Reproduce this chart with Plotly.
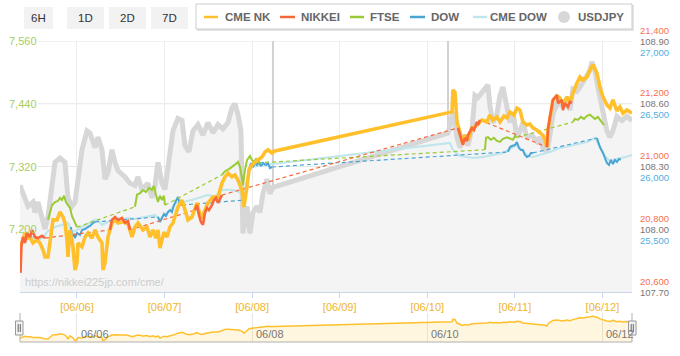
import pandas as pd
import plotly.graph_objects as go

BASE = pd.Timestamp("2019-06-05 00:00")  # JST, hours below are counted from here


def T(hs):
    return [BASE + pd.Timedelta(hours=h) for h in hs]


# ---------------- data (hours since 06/05 00:00, values) ----------------
usdjpy_h = [8.39, 9.76, 10.58, 11.95, 12.50, 13.32, 14.41, 15.24, 16.06, 17.16,
            17.98, 19.35, 20.72, 21.54, 22.64, 23.46, 25.38, 26.75, 27.57, 28.94,
            29.76, 30.86, 31.68, 32.50, 33.60, 34.42, 35.24, 37.16, 38.53, 39.90,
            40.72, 41.82, 43.46, 44.56, 45.38, 46.20, 47.30, 48.12, 49.49, 50.31,
            51.68, 52.78, 53.60, 54.70, 55.79, 57.16, 58.53, 59.90, 61.27, 62.64,
            64.01, 65.38, 66.48, 67.30, 68.12, 68.94, 69.49, 70.59, 71.41, 72.23,
            73.33, 74.15, 74.97, 76.06, 76.89, 77.71,
            125.68, 126.22, 127.04, 128.14, 128.96, 130.06, 131.15, 132.25, 133.07, 133.89,
            135.26, 136.63, 137.18, 138.00, 139.10, 139.92, 140.74, 141.84, 142.66, 143.48,
            144.58, 145.40, 146.22, 147.32, 148.69, 150.06, 150.88, 151.70, 152.80, 153.62,
            154.45, 155.82, 156.91, 158.28, 159.10, 159.92, 161.02, 161.84, 162.94, 163.76,
            164.58, 165.13, 165.95, 166.77, 168.14, 169.24, 170.06, 170.88, 171.98, 173.35,
            174.72, 176.09]
usdjpy_v = [108.21, 108.15, 108.11, 108.13, 108.08, 108.13, 108.06, 108.00, 108.06, 108.24,
            108.32, 108.34, 108.32, 108.15, 108.11, 108.13, 108.38, 108.47, 108.46, 108.39,
            108.44, 108.38, 108.24, 108.27, 108.38, 108.32, 108.28, 108.25, 108.22, 108.21,
            108.25, 108.19, 108.22, 108.15, 108.21, 108.32, 108.22, 108.19, 108.38, 108.47,
            108.53, 108.52, 108.40, 108.37, 108.47, 108.50, 108.45, 108.51, 108.46, 108.50,
            108.48, 108.51, 108.58, 108.60, 108.55, 108.47, 107.98, 108.11, 107.98, 108.08,
            108.11, 108.08, 108.17, 108.24, 108.17, 108.20,
            108.46, 108.51, 108.56, 108.44, 108.39, 108.45, 108.40, 108.48, 108.64, 108.63,
            108.66, 108.69, 108.59, 108.51, 108.55, 108.64, 108.68, 108.59, 108.51, 108.56,
            108.44, 108.47, 108.51, 108.44, 108.45, 108.42, 108.44, 108.39, 108.37, 108.45,
            108.55, 108.61, 108.59, 108.60, 108.57, 108.67, 108.66, 108.68, 108.71, 108.73,
            108.76, 108.80, 108.76, 108.68, 108.57, 108.47, 108.44, 108.47, 108.54, 108.52,
            108.54, 108.52]

cme_nk_h = [8.39, 9.21, 9.76, 10.58, 11.13, 11.95, 13.05, 13.87, 14.69, 15.24,
            16.06, 16.61, 17.43, 18.53, 19.35, 20.17, 20.72, 21.27, 21.54, 22.09,
            22.91, 23.46, 24.01, 24.28, 25.38, 26.20, 27.02, 28.12, 28.94, 29.76,
            30.86, 31.13, 31.68, 32.50, 33.60, 34.42, 35.24, 36.34, 37.16, 37.98,
            39.08, 39.90, 40.72, 42.09, 43.19, 44.01, 44.83, 45.65, 46.20, 46.75,
            47.30, 47.85, 48.67, 49.49, 50.31, 51.68, 52.78, 53.60, 54.42, 55.52,
            56.34, 56.89, 57.71, 58.26, 59.08, 59.90, 61.27, 62.64, 63.73, 64.56,
            65.38, 66.48, 67.30, 68.12, 69.21, 69.49, 69.76, 70.59, 71.14, 71.96,
            72.78, 73.60, 74.70, 75.52, 76.34, 77.44, 77.98,
            126.77, 127.04, 127.59, 128.14, 128.96, 129.51, 130.33, 131.15, 132.25, 133.07,
            133.89, 134.99, 136.36, 137.18, 138.00, 139.10, 139.92, 141.02, 141.84, 142.66,
            143.76, 144.58, 145.40, 146.22, 147.32, 148.14, 148.96, 150.06, 150.88, 151.70,
            152.25, 152.80, 153.07, 153.62, 154.45, 155.54, 156.36, 157.18, 158.28, 159.10,
            159.92, 161.02, 161.84, 162.66, 163.76, 164.58, 165.40, 166.50, 167.32, 168.14,
            169.24, 170.06, 170.88, 171.98, 172.80, 173.62, 174.72, 176.09]
cme_nk_v = [20744, 20766, 20788, 20772, 20775, 20756, 20766, 20756, 20734, 20712,
            20712, 20766, 20830, 20830, 20855, 20839, 20820, 20766, 20712, 20798,
            20744, 20670, 20693, 20756, 20744, 20775, 20788, 20772, 20798, 20775,
            20756, 20670, 20693, 20775, 20820, 20830, 20820, 20823, 20823, 20817,
            20775, 20807, 20820, 20798, 20807, 20775, 20798, 20772, 20798, 20740,
            20766, 20791, 20775, 20807, 20820, 20871, 20893, 20861, 20830, 20839,
            20871, 20884, 20845, 20839, 20861, 20884, 20903, 20903, 20947, 20967,
            20979, 20967, 20973, 20957, 20925, 20884, 20871, 20935, 20989, 21005,
            21014, 21021, 21030, 21046, 21053, 21043, 21049,
            21174, 21244, 21237, 21142, 21110, 21078, 21100, 21084, 21123, 21126,
            21135, 21148, 21142, 21164, 21148, 21158, 21142, 21161, 21155, 21174,
            21164, 21186, 21180, 21142, 21132, 21135, 21123, 21116, 21107, 21100,
            21084, 21062, 21116, 21158, 21212, 21225, 21218, 21196, 21222, 21202,
            21234, 21266, 21285, 21276, 21285, 21308, 21324, 21298, 21253, 21222,
            21196, 21186, 21212, 21177, 21190, 21170, 21180, 21170]

# NIKKEI cash sessions
nikkei_h = [[8.53, 8.80, 9.21, 9.76, 10.30, 11.13, 11.67, 12.50, 13.32, 14.41, 15.24],
            [33.05, 33.60, 34.42, 35.24, 36.34, 37.16, 37.98, 38.53],
            [56.34, 56.89, 57.44, 57.98, 58.53, 59.08, 59.63, 60.17, 60.99, 61.54, 62.09, 62.64, 63.19, 63.73],
            [128.41, 128.96, 129.51, 129.78, 130.33, 130.88, 131.15, 131.70, 132.25, 132.80, 133.62, 133.89, 134.44],
            [152.80, 153.07, 153.62, 154.45, 155.54, 155.82, 156.91, 157.18, 157.73, 158.55, 159.10, 159.65]]
nikkei_v = [[20661, 20750, 20775, 20756, 20788, 20775, 20798, 20775, 20772, 20779, 20772],
            [20798, 20830, 20839, 20830, 20836, 20820, 20826, 20798],
            [20861, 20877, 20845, 20823, 20814, 20852, 20868, 20861, 20877, 20893, 20900, 20884, 20896, 20909],
            [21123, 21100, 21078, 21069, 21091, 21081, 21100, 21110, 21123, 21116, 21142, 21132, 21148],
            [21062, 21116, 21158, 21212, 21228, 21202, 21212, 21180, 21202, 21190, 21206, 21202]]

# FTSE sessions
ftse_h = [[16.06, 16.61, 17.16, 17.98, 18.80, 19.35, 19.90, 20.45, 20.99, 21.54, 22.09, 22.64, 23.46, 24.01],
          [39.90, 40.45, 41.27, 42.09, 42.91, 43.73, 44.56, 45.10, 45.65, 46.20, 46.75, 47.30, 47.85, 48.12],
          [63.73, 64.56, 65.65, 66.48, 67.57, 68.12, 68.67, 69.21, 69.49, 70.04, 70.59, 71.41, 71.96, 72.51, 73.06, 73.60],
          [135.81, 136.09, 136.63, 137.45, 138.27, 139.10, 139.92, 140.74, 141.84, 142.66, 143.48, 144.03, 144.58],
          [159.92, 160.47, 161.29, 162.11, 162.94, 163.76, 164.58, 165.13, 165.95, 166.77, 167.32, 167.87, 168.42]]
ftse_v = [[7218, 7231, 7246, 7252, 7254, 7260, 7256, 7264, 7252, 7246, 7241, 7225, 7212, 7204],
          [7243, 7266, 7269, 7275, 7271, 7279, 7275, 7283, 7266, 7252, 7264, 7256, 7264, 7246],
          [7304, 7311, 7315, 7319, 7325, 7329, 7319, 7298, 7285, 7313, 7332, 7340, 7332, 7329, 7334, 7327],
          [7352, 7375, 7376, 7371, 7375, 7369, 7367, 7373, 7376, 7373, 7371, 7378, 7376],
          [7405, 7411, 7409, 7415, 7411, 7417, 7419, 7415, 7411, 7415, 7409, 7405, 7399]]

# DOW sessions
dow_h = [[22.36, 22.64, 23.19, 23.46, 24.01, 24.83, 25.38, 26.20, 27.02, 27.57, 28.39, 28.94],
         [46.20, 46.75, 47.30, 47.85, 48.39, 48.94, 49.49, 50.04, 50.58, 51.13, 51.68, 52.23, 52.78],
         [70.04, 70.59, 71.14, 71.69, 72.23, 72.78, 73.33, 73.88, 74.43, 74.97, 75.79, 76.34, 76.89, 77.44],
         [142.11, 142.66, 143.21, 144.03, 144.58, 145.13, 145.67, 146.22, 146.77, 147.32, 147.87, 148.41, 148.96],
         [166.50, 167.32, 168.14, 168.69, 169.24, 169.79, 170.33, 170.88, 171.43, 171.98, 172.53, 173.08]]
dow_v = [[25518, 25438, 25462, 25430, 25470, 25454, 25494, 25502, 25518, 25526, 25550, 25558],
         [25598, 25558, 25590, 25622, 25606, 25637, 25653, 25637, 25693, 25733, 25757, 25693, 25693],
         [25733, 25876, 25972, 26028, 25996, 26028, 26012, 26036, 26004, 26028, 26012, 26028, 25988, 25996],
         [26116, 26155, 26163, 26171, 26195, 26147, 26131, 26131, 26092, 26076, 26084, 26108, 26108],
         [26227, 26155, 26108, 26068, 26028, 26012, 26052, 26020, 26052, 26036, 26060, 26052]]

cme_dow_h = [8.39, 9.76, 11.67, 13.32, 14.69, 16.06, 17.98, 19.90, 21.54, 22.64,
             24.01, 25.38, 27.02, 28.94, 29.76, 30.86, 32.50, 34.42, 36.34, 37.98,
             39.90, 42.64, 45.38, 46.75, 48.12, 49.49, 51.13, 52.78, 54.15, 55.52,
             58.26, 59.90, 61.82, 63.73, 66.48, 68.67, 69.49, 70.31, 71.14, 71.96,
             73.60, 75.52, 77.71,
             126.22, 127.04, 128.96, 130.88, 132.53, 135.26, 138.00, 140.74, 142.66, 144.58,
             146.22, 147.59, 148.96, 150.88, 153.62, 156.36, 159.92, 163.76, 165.95, 167.32,
             168.69, 170.06, 172.80, 174.44, 176.09]
cme_dow_v = [25390, 25414, 25438, 25414, 25438, 25486, 25518, 25534, 25550, 25478,
             25494, 25518, 25542, 25574, 25574, 25534, 25558, 25590, 25574, 25590,
             25582, 25598, 25614, 25574, 25622, 25645, 25709, 25709, 25725, 25733,
             25757, 25773, 25757, 25813, 25813, 25797, 25749, 25853, 25956, 25996,
             26004, 26012, 26020,
             26187, 26131, 26084, 26076, 26068, 26076, 26092, 26108, 26139, 26171,
             26123, 26084, 26076, 26092, 26116, 26147, 26171, 26195, 26227, 26155,
             26084, 26044, 26068, 26076, 26092]

session_break_h = [77.71, 125.68]

ftse_ticks = [7200, 7320, 7440, 7560]
ftse_grid = [7200, 7320, 7440, 7560]
nikkei_ticks = [20600, 20800, 21000, 21200, 21400]
usdjpy_ticks = [107.70, 108.00, 108.30, 108.60, 108.90]
dow_ticks = [25500, 26000, 26500, 27000]
nav_ticks = ["2019-06-06", "2019-06-08", "2019-06-10", "2019-06-12"]
range_buttons = ["6H", "1D", "2D", "7D"]
legend_names = ["CME NK", "NIKKEI", "FTSE", "DOW", "CME DOW", "USDJPY"]

X_RANGE_H = [8.39, 176.11]

# ---------------- styling ----------------
C_NK = "#ffc02c"
C_NIK = "#f9683a"
C_FTSE = "#9acb35"
C_DOW = "#4ba5d4"
C_CDOW = "#c0e5ec"
C_USD = "#d7d7d7"
FONT = "Liberation Sans, Arial, sans-serif"

# axis ids (overlaid subplots are layered in this order: y below y2 below y3 below y4)
AX_USD, AX_DOW, AX_FTSE, AX_NK = "y", "y2", "y3", "y4"

W, H = 680, 356
ML, MR, MT, MB = 20, 48, 41, 14
PW = W - ML - MR
PH = H - MT - MB


def px(x):
    return (x - ML) / PW


def py(y):
    return (H - MB - y) / PH


MAIN_DOM = [py(292), 1.0]
NAV_DOM = [0.0, py(313)]

fig = go.Figure()


def sessions_xy(hs_list, vs_list):
    xs, ys = [], []
    for hs, vs in zip(hs_list, vs_list):
        xs += T(hs) + [None]
        ys += list(vs) + [None]
    return xs, ys


def connectors_xy(hs_list, vs_list):
    xs, ys = [], []
    for i in range(len(hs_list) - 1):
        xs += T([hs_list[i][-1], hs_list[i + 1][0]]) + [None]
        ys += [vs_list[i][-1], vs_list[i + 1][0], None]
    return xs, ys


def dashed(hs, vs, col, ax):
    cx, cy = connectors_xy(hs, vs)
    fig.add_trace(go.Scatter(x=cx, y=cy, mode="lines", yaxis=ax,
                             line=dict(color=col, width=1.2, dash="4px,3px"), hoverinfo="skip"))


def solid_sessions(hs, vs, col, ax, wd):
    sx, sy = sessions_xy(hs, vs)
    fig.add_trace(go.Scatter(x=sx, y=sy, mode="lines", yaxis=ax,
                             line=dict(color=col, width=wd), hoverinfo="skip"))


# USDJPY area (bottom layer)
fig.add_trace(go.Scatter(x=T(usdjpy_h), y=usdjpy_v, mode="lines", yaxis=AX_USD,
                         line=dict(color=C_USD, width=5), fill="tozeroy",
                         fillcolor="#f4f4f4", hoverinfo="skip"))
# CME DOW + DOW
fig.add_trace(go.Scatter(x=T(cme_dow_h), y=cme_dow_v, mode="lines", yaxis=AX_DOW,
                         line=dict(color=C_CDOW, width=2.2), hoverinfo="skip"))
dashed(dow_h, dow_v, C_DOW, AX_DOW)
solid_sessions(dow_h, dow_v, C_DOW, AX_DOW, 2)
# FTSE
dashed(ftse_h, ftse_v, C_FTSE, AX_FTSE)
solid_sessions(ftse_h, ftse_v, C_FTSE, AX_FTSE, 2)
# CME NK + NIKKEI
dashed(nikkei_h, nikkei_v, C_NIK, AX_NK)
fig.add_trace(go.Scatter(x=T(cme_nk_h), y=cme_nk_v, mode="lines", yaxis=AX_NK,
                         line=dict(color=C_NK, width=3.6), hoverinfo="skip"))
solid_sessions(nikkei_h, nikkei_v, C_NIK, AX_NK, 2.6)
# navigator
fig.add_trace(go.Scatter(x=T(cme_nk_h), y=cme_nk_v, mode="lines", xaxis="x2", yaxis="y5",
                         line=dict(color=C_NK, width=1.5), fill="tozeroy",
                         fillcolor="rgba(255,197,61,0.16)", hoverinfo="skip"))

shapes = []
annotations = []

# horizontal grid
for v in ftse_grid:
    shapes.append(dict(type="line", xref="paper", yref=AX_FTSE, x0=px(38), x1=1, y0=v, y1=v,
                       line=dict(color="#e6e6e6", width=1), layer="below"))
# session break lines
for hb in session_break_h:
    t = T([hb])[0]
    shapes.append(dict(type="line", xref="x", yref="paper", x0=t, x1=t,
                       y0=MAIN_DOM[0], y1=MAIN_DOM[1],
                       line=dict(color="#d2d2d2", width=2), layer="below"))

# range buttons
btn_boxes = [(24, 53), (67, 104), (109, 146), (151, 188)]
for lab, (x0, x1) in zip(range_buttons, btn_boxes):
    shapes.append(dict(type="rect", xref="paper", yref="paper", x0=px(x0), x1=px(x1),
                       y0=py(29), y1=py(7), fillcolor="#f2f2f2", line=dict(width=0)))
    annotations.append(dict(text=lab, xref="paper", yref="paper", x=px((x0 + x1) / 2), y=py(18),
                            showarrow=False, font=dict(family=FONT, size=11.5, color="#333333"),
                            xanchor="center", yanchor="middle"))

# legend box
shapes.append(dict(type="rect", xref="paper", yref="paper", x0=px(197), x1=px(634),
                   y0=py(31), y1=py(5), fillcolor="#e4e4e4", line=dict(width=0)))
shapes.append(dict(type="rect", xref="paper", yref="paper", x0=px(196), x1=px(632),
                   y0=py(29), y1=py(4), fillcolor="#ffffff", line=dict(color="#cccccc", width=1)))
leg_cols = [C_NK, C_NIK, C_FTSE, C_DOW, C_CDOW, C_USD]
leg_sym = [(204, 218), (280, 295), (350, 364), (410, 425), (473, 487), (564, 564)]
leg_txt = [224, 300, 369, 430, 489, 577]
for name, col, (s0, s1), tx in zip(legend_names, leg_cols, leg_sym, leg_txt):
    if name == "USDJPY":
        shapes.append(dict(type="circle", xref="paper", yref="paper", x0=px(s0 - 6), x1=px(s0 + 6),
                           y0=py(23), y1=py(11), fillcolor=col, line=dict(width=0)))
    else:
        shapes.append(dict(type="line", xref="paper", yref="paper", x0=px(s0), x1=px(s1),
                           y0=py(17), y1=py(17), line=dict(color=col, width=2.5)))
    annotations.append(dict(text="<b>%s</b>" % name, xref="paper", yref="paper", x=px(tx), y=py(17),
                            showarrow=False, xanchor="left", yanchor="middle", borderpad=0,
                            font=dict(family=FONT, size=11.5, color="#666666")))

# left axis labels (FTSE)
for v in ftse_ticks:
    annotations.append(dict(text=f"{v:,}", xref="paper", yref=AX_FTSE, x=px(38), y=v,
                            showarrow=False, xanchor="right", yanchor="middle", borderpad=0,
                            font=dict(family=FONT, size=11, color="#a7cd5f")))
# right axis labels (three scales stacked around each grid line)
RFS = 9.5
for v in nikkei_ticks:
    annotations.append(dict(text=f"{v:,}", xref="paper", yref=AX_NK, x=px(670), y=v, yshift=11,
                            showarrow=False, xanchor="right", yanchor="middle", borderpad=0,
                            font=dict(family=FONT, size=RFS, color="#f7714f")))
for v in usdjpy_ticks:
    annotations.append(dict(text=f"{v:.2f}", xref="paper", yref=AX_USD, x=px(670), y=v, yshift=0,
                            showarrow=False, xanchor="right", yanchor="middle", borderpad=0,
                            font=dict(family=FONT, size=RFS, color="#777777")))
for v in dow_ticks:
    annotations.append(dict(text=f"{v:,}", xref="paper", yref=AX_DOW, x=px(670), y=v, yshift=-11,
                            showarrow=False, xanchor="right", yanchor="middle", borderpad=0,
                            font=dict(family=FONT, size=RFS, color="#55ade0")))

# watermark
annotations.append(dict(text="https://nikkei225jp.com/cme/", xref="paper", yref="paper",
                        x=px(23), y=py(282), showarrow=False, xanchor="left", yanchor="middle",
                        font=dict(family=FONT, size=11, color="#cdcdcd")))

# navigator labels
for d in nav_ticks:
    annotations.append(dict(text=pd.Timestamp(d).strftime("%m/%d"), xref="x2", yref="paper",
                            x=d, y=py(334), xshift=3, showarrow=False, xanchor="left",
                            yanchor="middle", borderpad=0,
                            font=dict(family=FONT, size=11, color="#777777")))
# navigator outline and handles
shapes.append(dict(type="line", xref="paper", yref="paper", x0=0, x1=1, y0=py(342), y1=py(342),
                   line=dict(color="#b0b0b0", width=1)))
for xe in (20, 632):
    shapes.append(dict(type="line", xref="paper", yref="paper", x0=px(xe), x1=px(xe),
                       y0=py(342), y1=py(313), line=dict(color="#b0b0b0", width=1)))
for hx0, hx1 in [(15.5, 23), (628.5, 636)]:
    shapes.append(dict(type="rect", xref="paper", yref="paper", x0=px(hx0), x1=px(hx1),
                       y0=py(335), y1=py(321), fillcolor="#f2f2f2", line=dict(color="#999999", width=1)))
    for lx in (hx0 + 2.7, hx0 + 4.8):
        shapes.append(dict(type="line", xref="paper", yref="paper", x0=px(lx), x1=px(lx),
                           y0=py(332), y1=py(324), line=dict(color="#666666", width=1)))

xr = T(X_RANGE_H)
fig.update_layout(
    width=W, height=H,
    margin=dict(l=ML, r=MR, t=MT, b=MB),
    paper_bgcolor="white", plot_bgcolor="white",
    showlegend=False,
    font=dict(family=FONT, size=11),
    xaxis=dict(domain=[0, 1], anchor="y", type="date", range=xr,
               showgrid=True, gridcolor="#ececec", gridwidth=1,
               dtick=86400000, tick0="2019-06-06", tickformat="[%m/%d]",
               tickfont=dict(family=FONT, size=11, color="#efb52c"),
               ticks="outside", ticklen=5, tickcolor="#ccd6eb",
               showline=True, linecolor="#ccd6eb", linewidth=1, zeroline=False),
    yaxis=dict(domain=MAIN_DOM, anchor="x", range=[107.70, 108.90], showgrid=False,
               showticklabels=False, zeroline=False, ticks=""),
    yaxis2=dict(overlaying="y", anchor="x", range=[25000, 27000], visible=False),
    yaxis3=dict(overlaying="y", anchor="x", range=[7080, 7560], visible=False),
    yaxis4=dict(overlaying="y", anchor="x", range=[20600, 21400], visible=False),
    xaxis2=dict(domain=[0, 1], anchor="y5", type="date", range=xr, showgrid=True,
                gridcolor="#e6e6e6", dtick=2 * 86400000, tick0="2019-06-06",
                showticklabels=False, ticks="", zeroline=False, showline=False),
    yaxis5=dict(domain=NAV_DOM, anchor="x2", range=[20635, 21410], visible=False),
    shapes=shapes,
    annotations=annotations,
)

fig.write_html("out.html", config={"displayModeBar": False},
               post_script="document.body.style.margin='0';")
